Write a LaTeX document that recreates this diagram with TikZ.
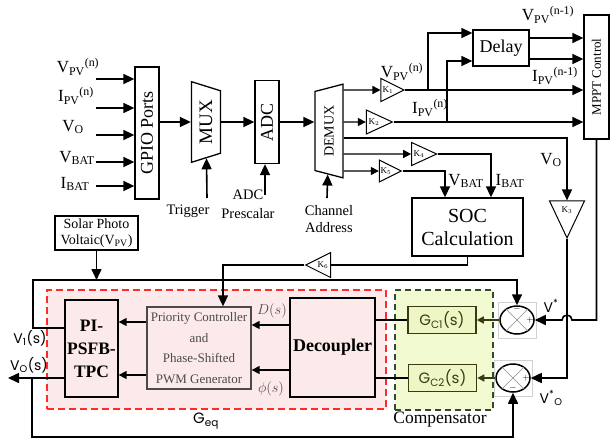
\documentclass[tikz,border=0pt]{standalone}
\usepackage{fontspec}
\setmainfont{Liberation Serif}
\newfontfamily\gothic{Poppins}
\usetikzlibrary{arrows.meta,shapes.geometric,positioning}
\definecolor{pinkbg}{HTML}{FCEAEA}
\definecolor{redline}{HTML}{FF2B2B}
\definecolor{compbg}{HTML}{F2FAD2}
\definecolor{compline}{HTML}{2F4A2F}
\definecolor{gcbg}{HTML}{EEF6C6}
\definecolor{gcline}{HTML}{3A3A10}
\definecolor{prioline}{HTML}{4A4A4A}
\newcommand{\fsz}[2]{\fontsize{#1}{#2}\selectfont}

\begin{document}
\begin{tikzpicture}[x=1pt,y=-1pt,
  arr/.style={line width=1.6pt,-{Triangle[length=11pt,width=10pt]}},
  sarr/.style={line width=1.4pt,-{Triangle[length=8pt,width=8pt]}},
  garr/.style={line width=1.6pt,draw=gcline,-{Triangle[length=7pt,width=7pt]}},
  ln/.style={line width=1.4pt},
  blk/.style={draw,line width=1.3pt,inner sep=0pt,align=center},
  gain/.style={draw,line width=1pt,isosceles triangle,isosceles triangle stretches,inner sep=0pt,font=\fsz{9}{9}},
  trap/.style={draw,line width=1.3pt,trapezium,trapezium angle=63,trapezium stretches,inner sep=0pt,rotate=90},
  gcblk/.style={draw=gcline,fill=gcbg,line width=1.6pt,text=gcline,minimum width=68pt,minimum height=27pt,inner sep=0pt,font=\gothic\fsz{15}{15}},
  sumj/.style={draw,ellipse,fill=white,line width=1.5pt,minimum width=34pt,minimum height=28pt,inner sep=0pt},
  sumbox/.style={draw=black!18,minimum width=38pt,minimum height=36pt,inner sep=0pt},
  sumx/.style={draw=black!45,line width=0.6pt},
  sgn/.style={inner sep=0pt,font=\fsz{9}{9}},
  lbl/.style={inner sep=0pt,font=\fsz{17}{19}},
  txt/.style={inner sep=0pt,align=center},
]
\useasboundingbox (0,0) rectangle (610,439);

% acquisition chain
\node (gpio) [blk,minimum width=24pt,minimum height=132pt] at (147,133) {\rotatebox{90}{\fsz{18}{20}GPIO Ports}};
\node (mux) [trap,shape border rotate=180,minimum width=81pt,minimum height=29pt,font=\fsz{19}{20}] at (206,122) {MUX};
\node (adc) [blk,minimum width=24pt,minimum height=83pt] at (267,122) {\rotatebox{90}{\fsz{18}{20}ADC}};
\node (demux) [trap,minimum width=94pt,minimum height=28pt,font=\fsz{14}{16}] at (329,131) {DEMUX};

\coordinate (in1) at (96,79);
\coordinate (in2) at (96,108);
\coordinate (in3) at (96,135);
\coordinate (in4) at (96,162);
\coordinate (in5) at (96,186);
\draw[arr] (in1) -- (in1 -| gpio.west);
\draw[arr] (in2) -- (in2 -| gpio.west);
\draw[arr] (in3) -- (in3 -| gpio.west);
\draw[arr] (in4) -- (in4 -| gpio.west);
\draw[arr] (in5) -- (in5 -| gpio.west);
\node (lin1) [lbl] at (78,67) {V\textsubscript{PV}\textsuperscript{(n)}};
\node (lin2) [lbl] at (76,96) {I\textsubscript{PV}\textsuperscript{(n)}};
\node (lin3) [lbl] at (73,127) {V\textsubscript{O}};
\node (lin4) [lbl] at (77,158) {V\textsubscript{BAT}};
\node (lin5) [lbl] at (75,184) {I\textsubscript{BAT}};

\draw[arr] (gpio.east |- mux) -- (mux);
\draw[arr] (mux) -- (adc);
\draw[arr] (adc) -- (adc -| demux.north);

\node (ltrig) [txt,font=\fsz{14.5}{17}] at (188,211) {Trigger};
\coordinate (trig) at (207,198);
\draw[arr] (trig) -- (mux);
\node (lpre) [txt,font=\fsz{14.5}{19}] at (248,204) {ADC\\Prescalar};
\coordinate (pre) at (265,195);
\draw[arr] (pre) -- (pre |- adc.south);
\node (lchan) [txt,font=\fsz{14.5}{17}] at (329,219) {Channel\\Address};
\coordinate (chan) at (327,198);
\draw[arr] (chan) -- (demux);

% gains
\node (k1) [gain,minimum width=23pt,minimum height=23pt] at (388,90) {K$_1$};
\node (k2) [gain,minimum width=24pt,minimum height=26pt] at (374,122) {K$_2$};
\node (k4) [gain,minimum width=23pt,minimum height=25pt] at (419,154) {K$_4$};
\node (k5) [gain,minimum width=22pt,minimum height=22pt] at (386,171) {K$_5$};
\node (k3) [gain,shape border rotate=270,minimum width=35pt,minimum height=37pt] at (567,210) {K$_3$};
\node (k6) [gain,shape border rotate=180,minimum width=25pt,minimum height=25pt] at (323,265) {K$_6$};

\draw[sarr] (demux.south |- k1) -- (k1);
\draw[sarr] (demux.south |- k2) -- (k2);
\draw[arr] ([yshift=-7pt]demux.south) -| (k3);
\draw[sarr] (demux.south |- k4) -- (k4);
\draw[sarr] (demux.south |- k5) -- (k5);

% MPPT side
\node (delay) [blk,minimum width=56pt,minimum height=36pt,font=\fsz{18}{20}] at (501,48) {Delay};
\node (mppt) [blk,minimum width=25pt,minimum height=124pt] at (596.5,77) {\rotatebox{90}{\fsz{13}{15}MPPT Control}};
\draw[arr] (k1.apex) -- (k1.apex -| mppt.west);
\draw[arr] (k2.apex) -- (k2.apex -| mppt.west);
\coordinate (br1) at (428,90);
\coordinate (br2) at (447,122);
\draw[arr] (br1) |- ([yshift=15pt]delay.west);
\draw[arr] (br2) |- ([yshift=-13pt]delay.west);
\draw[arr] ([yshift=10pt]delay.east) -- ([yshift=10pt]delay.east -| mppt.west);
\draw[arr] ([yshift=-11pt]delay.east) -- ([yshift=-11pt]delay.east -| mppt.west);
\node (lvpvn) [lbl] at (402,72) {V\textsubscript{PV}\textsuperscript{(n)}};
\node (lipvn) [lbl] at (430,108) {I\textsubscript{PV}\textsuperscript{(n)}};
\node (lvpvo) [lbl] at (548,15) {V\textsubscript{PV}\textsuperscript{(n-1)}};
\node (lipvo) [lbl] at (555,76) {I\textsubscript{PV}\textsuperscript{(n-1)}};
\node (lvo) [lbl] at (551,160) {V\textsubscript{O}};

% battery
\node (soc) [blk,minimum width=111pt,minimum height=58pt,font=\fsz{20}{23}] at (467.5,227) {SOC\\Calculation};
\draw[arr] (k5.apex) -| ([xshift=-22.5pt]soc.north);
\draw[arr] (k4.apex) -| ([xshift=23.5pt]soc.north);
\node (lvbat) [lbl] at (466,181) {V\textsubscript{BAT}};
\node (libat) [lbl] at (510,181) {I\textsubscript{BAT}};

% converter and control loop
\node (solar) [blk,line width=1.2pt,minimum width=83pt,minimum height=34pt,font=\fsz{14}{16}] at (96.5,233) {Solar Photo\\Voltaic(V\textsubscript{PV})};
\node (geq) [draw=redline,fill=pinkbg,line width=1.6pt,dash pattern=on 7pt off 4pt,minimum width=339pt,minimum height=119pt] at (216.5,349.5) {};
\node (comp) [draw=compline,fill=compbg,line width=1.6pt,dash pattern=on 6pt off 4pt,minimum width=98pt,minimum height=120pt] at (444,350) {};
\node (pi) [blk,fill=pinkbg,minimum width=53pt,minimum height=97pt,font=\bfseries\fsz{17.5}{23}] at (91.5,348.5) {PI-\\PSFB-\\TPC};
\node (prio) [blk,draw=prioline,fill=pinkbg,text=prioline,minimum width=104pt,minimum height=82pt,font=\fsz{13}{20.5}] at (199,348) {Priority Controller\\and\\Phase-Shifted\\PWM Generator};
\node (dec) [blk,fill=pinkbg,minimum width=85pt,minimum height=99pt,font=\bfseries\fsz{18}{20}] at (332.5,347.5) {Decoupler};
\node (gc1) [gcblk] at (442,320) {G\textsubscript{C1}(s)};
\node (gc2) [gcblk] at (442.5,378) {G\textsubscript{C2}(s)};

\node (s1frame) [sumbox] at (517,320) {};
\node (s1) [sumj] at (517,320) {};
\draw[sumx] (s1.45) -- (s1.225) (s1.135) -- (s1.315);
\node (s1m) [sgn,below=1pt of s1.north] {$-$};
\node (s1p) [sgn,left=1pt of s1.east] {$+$};
\node (s2frame) [sumbox] at (513,378) {};
\node (s2) [sumj] at (513,378) {};
\draw[sumx] (s2.45) -- (s2.225) (s2.135) -- (s2.315);
\node (s2p) [sgn,left=1pt of s2.east] {$+$};
\node (s2m) [sgn,above=1pt of s2.south] {$-$};

\draw[garr] (s1) -- (gc1);
\draw[garr] (s2) -- (s2 -| gc2.east);
\draw[ln] (gc1) -- (gc1 -| dec.east);
\draw[ln] (gc2) -- (gc2 -| dec.east);
\draw[sarr] ([yshift=22.5pt]dec.west) -- ([yshift=22.5pt]dec.west -| prio.east);
\draw[sarr] ([yshift=-22.5pt]dec.west) -- ([yshift=-22.5pt]dec.west -| prio.east);
\draw[sarr] ([yshift=26pt]prio.west) -- ([yshift=26pt]prio.west -| pi.east);
\draw[sarr] ([yshift=-27pt]prio.west) -- ([yshift=-27pt]prio.west -| pi.east);

\coordinate (v1end) at (33,328);
\coordinate (loopnw) at (33,280);
\coordinate (vout) at (8,378);
\coordinate (fbsw) at (32,437);
\draw[arr] (pi.west |- v1end) -- (v1end) -- (loopnw) -| (s1);
\draw[arr] (solar) -- (solar |- loopnw);
\draw[arr] (pi.west |- vout) -- (vout);
\draw[arr] (fbsw |- vout) -- (fbsw) -| (s2);

\draw[ln] (soc.south) |- (k6);
\draw[arr] (k6.apex) -| ([xshift=24pt]prio.north);
\draw[arr] (k3.apex) |- (s2);
\draw[arr] (mppt.south) |- ([xshift=5pt]k3.apex |- s1) arc[start angle=0,end angle=180,radius=5pt] -- (s1);

\node (ldn) [inner sep=0pt,text=prioline,font=\fsz{15}{15}] at (272,311) {$D(s)$};
\node (lphi) [inner sep=0pt,text=prioline,font=\fsz{15}{15}] at (271,389) {$\phi(s)$};
\node (lgeq) [inner sep=0pt,font=\gothic\fsz{15}{15}] at (206,421) {G\textsubscript{eq}};
\node (lcomp) [inner sep=0pt,font=\fsz{17.5}{18}] at (440,420) {Compensator};
\node (lv1) [inner sep=0pt,font=\gothic\fsz{14}{14}] at (30,338) {V\textsubscript{1}(s)};
\node (lvos) [inner sep=0pt,font=\gothic\fsz{14}{14}] at (29,365) {V\textsubscript{O}(s)};
\node (lvs) [inner sep=0pt,font=\gothic\fsz{14}{14}] at (551,306) {V\textsuperscript{*}};
\node (lvso) [inner sep=0pt,font=\gothic\fsz{14}{14}] at (551,398) {V\textsuperscript{*}\textsubscript{O}};
\end{tikzpicture}
\end{document}
